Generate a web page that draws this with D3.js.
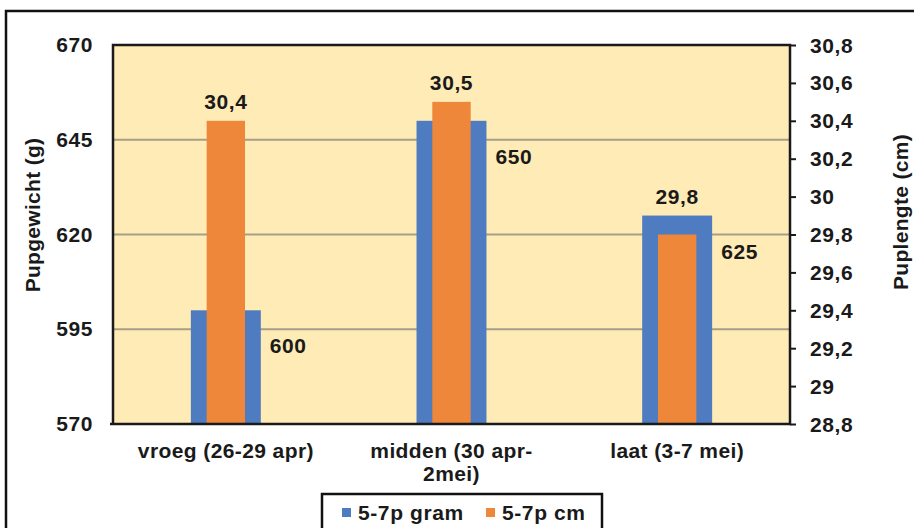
<!DOCTYPE html>
<html>
<head>
<meta charset="utf-8">
<script src="https://cdn.jsdelivr.net/npm/d3@7"></script>
<style>
  html, body { margin: 0; padding: 0; background: #fff; }
  svg { display: block; font-family: "Liberation Sans", Arial, sans-serif; }
</style>
</head>
<body>
<svg id="chart" width="914" height="528"></svg>
<script>
// Categories (each as its rendered lines)
const categories = ["vroeg (26-29 apr)", "midden (30 apr-2mei)", "laat (3-7 mei)"];
const categoryLines = [["vroeg (26-29 apr)"], ["midden (30 apr-", "2mei)"], ["laat (3-7 mei)"]];

// Series values
const gramValues = [600, 650, 625];   // 5-7p gram (left axis)
const cmValues = [30.4, 30.5, 29.8];  // 5-7p cm (right axis)

// Axis ticks
const leftTicks = [570, 595, 620, 645, 670];
const rightTicks = [28.8, 29, 29.2, 29.4, 29.6, 29.8, 30, 30.2, 30.4, 30.6, 30.8];

const seriesNames = ["5-7p gram", "5-7p cm"];
const colors = { gram: "#4F7BC1", cm: "#EE873A" };

const svg = d3.select("#chart");
const plot = { left: 113, right: 790, top: 45, bottom: 424 };

const x = d3.scaleBand().domain(categories).range([plot.left, plot.right]).padding(0);
const yL = d3.scaleLinear().domain([570, 670]).range([plot.bottom, plot.top]);
const yR = d3.scaleLinear().domain([28.8, 30.8]).range([plot.bottom, plot.top]);

const fmt = v => d3.format("~g")(v).replace(".", ",");

// Outer frame
svg.append("path")
  .attr("d", `M6,528 V11 H914`)
  .attr("fill", "none").attr("stroke", "#111").attr("stroke-width", 2.5);

// Plot background
svg.append("rect")
  .attr("x", plot.left).attr("y", plot.top)
  .attr("width", plot.right - plot.left).attr("height", plot.bottom - plot.top)
  .attr("fill", "#FFEBB6");

// Gridlines
svg.append("g").selectAll("line")
  .data(leftTicks.filter(t => t > 570 && t < 670))
  .join("line")
  .attr("x1", plot.left).attr("x2", plot.right)
  .attr("y1", d => yL(d)).attr("y2", d => yL(d))
  .attr("stroke", "#A59F88").attr("stroke-width", 2);

const bw = x.bandwidth();
const gramW = bw * 0.31;
const cmW = bw * 0.17;

// Gram bars
svg.append("g").selectAll("rect")
  .data(categories)
  .join("rect")
  .attr("x", d => x(d) + bw / 2 - gramW / 2)
  .attr("width", gramW)
  .attr("y", (d, i) => yL(gramValues[i]))
  .attr("height", (d, i) => yL(570) - yL(gramValues[i]))
  .attr("fill", colors.gram);

// Cm bars
svg.append("g").selectAll("rect")
  .data(categories)
  .join("rect")
  .attr("x", d => x(d) + bw / 2 - cmW / 2)
  .attr("width", cmW)
  .attr("y", (d, i) => yR(cmValues[i]))
  .attr("height", (d, i) => yR(28.8) - yR(cmValues[i]))
  .attr("fill", colors.cm);

// Plot frame lines
svg.append("path")
  .attr("d", `M${plot.left},${plot.bottom} V${plot.top} H${plot.right} V${plot.bottom} H${plot.left - 3}`)
  .attr("fill", "none").attr("stroke", "#1a1a1a").attr("stroke-width", 2.5);

const labelStyle = (sel, size = 20) => sel
  .attr("font-size", size).attr("font-weight", "bold")
  .attr("letter-spacing", 0.6).attr("fill", "#1a1a1a");

// Left axis labels
labelStyle(svg.append("g").selectAll("text")
  .data(leftTicks).join("text"), 21)
  .attr("x", 93).attr("y", d => yL(d) + 7)
  .attr("text-anchor", "end")
  .text(d => d);

// Right axis with outward ticks
const rightAxis = d3.axisRight(yR).tickValues(rightTicks).tickSize(6).tickFormat(fmt);
const ra = svg.append("g").attr("transform", `translate(${plot.right},0)`).call(rightAxis);
ra.select(".domain").remove();
ra.selectAll(".tick line").attr("stroke", "#1a1a1a").attr("stroke-width", 2);
labelStyle(ra.selectAll(".tick text"), 21)
  .attr("x", 20).attr("dy", null).attr("y", 7)
  .attr("font-family", "Liberation Sans, Arial, sans-serif");

// Category labels
const catG = svg.append("g");
categories.forEach((c, i) => {
  const t = catG.append("text")
    .attr("x", x(c) + bw / 2).attr("y", 458)
    .attr("text-anchor", "middle")
    .attr("font-size", 21).attr("font-weight", "bold")
    .attr("letter-spacing", 0.4).attr("fill", "#1a1a1a");
  categoryLines[i].forEach((line, j) => {
    t.append("tspan").attr("x", x(c) + bw / 2).attr("dy", j === 0 ? 0 : 23).text(line);
  });
});

// Value labels: cm above the taller bar top, gram to the right of the gram bar
labelStyle(svg.append("g").selectAll("text")
  .data(categories).join("text"), 21)
  .attr("x", d => x(d) + bw / 2)
  .attr("y", (d, i) => Math.min(yR(cmValues[i]), yL(gramValues[i])) - 12)
  .attr("text-anchor", "middle")
  .text((d, i) => fmt(cmValues[i]));

labelStyle(svg.append("g").selectAll("text")
  .data(categories).join("text"), 21)
  .attr("x", d => x(d) + bw / 2 + gramW / 2 + 9)
  .attr("y", (d, i) => yL(gramValues[i]) + 43)
  .attr("text-anchor", "start")
  .text((d, i) => gramValues[i]);

// Axis titles
labelStyle(svg.append("text"), 21)
  .attr("transform", "translate(40,215) rotate(-90)")
  .attr("text-anchor", "middle").attr("letter-spacing", 0.3)
  .text("Pupgewicht (g)");

labelStyle(svg.append("text"), 21)
  .attr("transform", "translate(908,212) rotate(-90)")
  .attr("text-anchor", "middle").attr("letter-spacing", 0.3)
  .text("Puplengte (cm)");

// Legend
const lg = svg.append("g");
lg.append("rect")
  .attr("x", 322).attr("y", 494).attr("width", 280).attr("height", 50)
  .attr("fill", "#fff").attr("stroke", "#111").attr("stroke-width", 2.5);
const legendItems = [
  { name: seriesNames[0], color: colors.gram, x: 342 },
  { name: seriesNames[1], color: colors.cm, x: 486 }
];
legendItems.forEach(it => {
  lg.append("rect").attr("x", it.x).attr("y", 508).attr("width", 9).attr("height", 9).attr("fill", it.color);
  labelStyle(lg.append("text"), 21)
    .attr("x", it.x + 16).attr("y", 520)
    .text(it.name);
});
</script>
</body>
</html>
